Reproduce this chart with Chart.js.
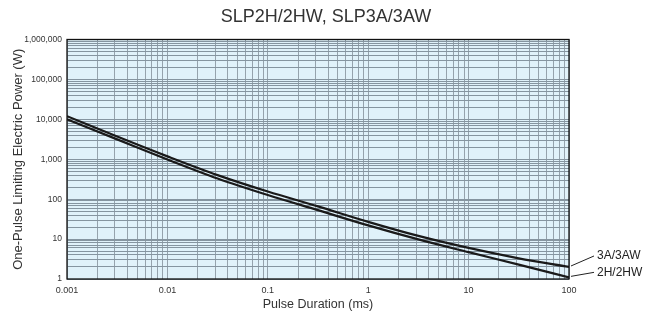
<!DOCTYPE html>
<html>
<head>
<meta charset="utf-8">
<script src="https://cdn.jsdelivr.net/npm/chart.js@4.4.1/dist/chart.umd.min.js"></script>
<style>
  html, body { margin: 0; padding: 0; background: #ffffff; }
  #wrap { width: 652px; height: 320px; position: relative; }
</style>
</head>
<body>
<div id="wrap"><canvas id="c" width="652" height="320"></canvas></div>
<script>
// ---- Data ----
const chartTitle = 'SLP2H/2HW, SLP3A/3AW';
const xAxisTitle = 'Pulse Duration (ms)';
const yAxisTitle = 'One-Pulse Limiting Electric Power (W)';
const seriesNames = ['3A/3AW', '2H/2HW'];
const durations = [0.001, 0.00316, 0.01, 0.0316, 0.1, 0.316, 1, 3.16, 10, 31.6, 100];
const power3A = [12000, 3700, 1180, 400, 155, 66, 27, 12, 6.0, 3.3, 2.0];
const power2H = [10000, 3150, 990, 330, 127, 53, 22, 9.8, 4.7, 2.3, 1.1];
const xTickLabels = ['0.001', '0.01', '0.1', '1', '10', '100'];
const yTickLabels = ['1', '10', '100', '1,000', '10,000', '100,000', '1,000,000'];

const FONT = '"Liberation Sans", Arial, Helvetica, sans-serif';

function logTicks(min, max) {
  const ticks = [];
  for (let e = Math.round(Math.log10(min)); e < Math.round(Math.log10(max)); e++) {
    for (let m = 1; m <= 9; m++) ticks.push({ value: m * Math.pow(10, e) });
  }
  ticks.push({ value: max });
  return ticks;
}
function isDecade(v) {
  const l = Math.log10(v);
  return Math.abs(l - Math.round(l)) < 1e-9;
}
function decadeIndex(v, min) {
  return Math.round(Math.log10(v) - Math.log10(min));
}

const decor = {
  id: 'decor',
  beforeDraw(chart) {
    const a = chart.chartArea, ctx = chart.ctx;
    ctx.save();
    ctx.fillStyle = '#e0f2fa';
    ctx.fillRect(a.left, a.top, a.right - a.left, a.bottom - a.top);
    ctx.restore();
  },
  afterDraw(chart) {
    const a = chart.chartArea, ctx = chart.ctx;
    ctx.save();
    ctx.strokeStyle = '#111';
    ctx.lineWidth = 1.3;
    ctx.strokeRect(a.left, a.top, a.right - a.left, a.bottom - a.top);
    // series end labels with leader lines
    const xs = chart.scales.x, ys = chart.scales.y;
    const offsets = [11, 5];
    ctx.font = '12px ' + FONT;
    ctx.fillStyle = '#222';
    ctx.textBaseline = 'middle';
    ctx.textAlign = 'left';
    chart.data.datasets.forEach((ds, i) => {
      const last = ds.data[ds.data.length - 1];
      const px = xs.getPixelForValue(last.x);
      const py = ys.getPixelForValue(last.y);
      const ly = py - offsets[i];
      ctx.beginPath();
      ctx.strokeStyle = '#222';
      ctx.lineWidth = 1;
      ctx.moveTo(px + 2, py - 1);
      ctx.lineTo(px + 25, ly);
      ctx.stroke();
      ctx.fillText(ds.label, px + 28, ly);
    });
    ctx.restore();
  }
};

const mk = (ys) => durations.map((d, i) => ({ x: d, y: ys[i] }));

new Chart(document.getElementById('c'), {
  type: 'line',
  data: {
    datasets: [
      { label: seriesNames[0], data: mk(power3A), borderColor: '#1a1a1a', borderWidth: 2.2, pointRadius: 0, cubicInterpolationMode: 'monotone', fill: false },
      { label: seriesNames[1], data: mk(power2H), borderColor: '#1a1a1a', borderWidth: 2.2, pointRadius: 0, cubicInterpolationMode: 'monotone', fill: false }
    ]
  },
  options: {
    responsive: false,
    animation: false,
    layout: { padding: 0 },
    plugins: {
      legend: { display: false },
      tooltip: { enabled: false },
      title: {
        display: true,
        text: chartTitle,
        color: '#333',
        font: { family: FONT, size: 18, weight: 'normal' },
        padding: { top: 6, bottom: 11.9 }
      }
    },
    scales: {
      x: {
        type: 'logarithmic',
        min: 0.001,
        max: 100,
        afterBuildTicks(scale) { scale.ticks = logTicks(0.001, 100); },
        afterFit(scale) { scale.height = 41; },
        border: { display: false },
        grid: {
          drawTicks: false,
          color: '#95a3ad',
          lineWidth: 1
        },
        ticks: {
          autoSkip: false,
          maxRotation: 0,
          padding: 6,
          color: '#333',
          font: { family: FONT, size: 9 },
          callback(v) { return isDecade(v) ? xTickLabels[decadeIndex(v, 0.001)] : ''; }
        },
        title: {
          display: true,
          text: xAxisTitle,
          color: '#333',
          font: { family: FONT, size: 12.5 },
          padding: { top: 0, bottom: 8 }
        }
      },
      y: {
        type: 'logarithmic',
        min: 1,
        max: 1000000,
        afterBuildTicks(scale) { scale.ticks = logTicks(1, 1000000); },
        afterFit(scale) { scale.width = 67; },
        border: { display: false },
        grid: {
          drawTicks: false,
          color: '#8595a0',
          lineWidth: 1
        },
        ticks: {
          autoSkip: false,
          padding: 5,
          color: '#333',
          font: { family: FONT, size: 8.5 },
          callback(v) { return isDecade(v) ? yTickLabels[decadeIndex(v, 1)] : ''; }
        },
        title: {
          display: true,
          text: yAxisTitle,
          color: '#333',
          font: { family: FONT, size: 13 },
          padding: { top: 11, bottom: 0 }
        }
      },
      yRight: {
        type: 'linear',
        position: 'right',
        display: true,
        afterFit(scale) { scale.width = 83; },
        border: { display: false },
        grid: { display: false, drawTicks: false },
        ticks: { display: false }
      }
    }
  },
  plugins: [decor]
});
</script>
</body>
</html>
